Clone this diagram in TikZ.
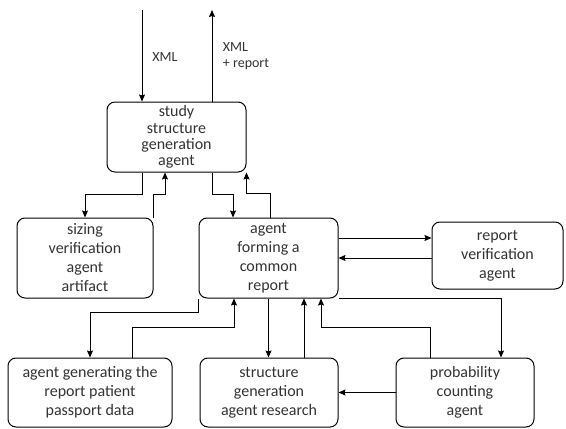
\documentclass[tikz,border=0pt]{standalone}
\usepackage{fontspec}
\setmainfont{Carlito}
\usetikzlibrary{arrows.meta}
\tikzset{
  agentbox/.style={draw, rounded corners=8pt, line width=1pt, align=center,
    inner sep=0pt, font=\fontsize{16}{19}\selectfont, text=black!80},
  flow/.style={line width=1pt, -{Stealth[length=7pt,width=6pt,inset=1pt]}}
}
\begin{document}
\begin{tikzpicture}[x=1pt,y=-1pt]
        \useasboundingbox (0,0) rectangle (566,429);
        \node[agentbox, minimum width=139pt, minimum height=70pt, font=\fontsize{16}{16.3}\selectfont] (study) at (176.5,137) {study\\structure\\generation\\agent};
        \node[agentbox, minimum width=136pt, minimum height=80pt] (sizing) at (85,258) {sizing\\verification\\agent\\artifact};
        \node[agentbox, minimum width=139pt, minimum height=80pt] (common) at (268.5,258) {agent\\forming a\\common\\report};
        \node[agentbox, minimum width=131pt, minimum height=67pt] (report) at (497.5,255.5) {report\\verification\\agent};
        \node[agentbox, minimum width=164pt, minimum height=69pt] (passport) at (90,392.5) {agent generating the\\report patient\\passport data};
        \node[agentbox, minimum width=138pt, minimum height=69pt] (research) at (269,392.5) {structure\\generation\\agent research};
        \node[agentbox, minimum width=138pt, minimum height=69pt] (probability) at (465,392.5) {probability\\counting\\agent};
        \coordinate (xmlin) at (142,10);
        \coordinate (xmlout) at (212,10);
        \draw[flow] (xmlin) -- (xmlin |- study.north);
        \draw[flow] (xmlout |- study.north) -- (xmlout);
        \node[font=\fontsize{14}{16}\selectfont, text=black!80] (xmllabel) at (165,57) {XML};
        \node[font=\fontsize{14}{16}\selectfont, text=black!80, align=left] (replabel) at (246,56) {XML\\+ report};
        \draw[flow] ([xshift=-34.5pt]study.south) -- ++(0,22) -| (sizing.north);
        \draw[flow] (sizing.north east) -- ++(0,-23) -| ([xshift=-11.5pt]study.south);
        \draw[flow] ([xshift=35.5pt]study.south) -- ++(0,22) -| ([xshift=-35.5pt]common.north);
        \draw[flow] ([xshift=1.5pt]common.north) -- ++(0,-24) -| (study.south east);
        \draw[flow] ([yshift=20pt]common.east) -- ([yshift=20pt]common.east -| report.west);
        \draw[flow] (report.west |- common.east) -- (common.east);
        \draw[flow] (common.south west) -- ++(0,14) -| (passport.north);
        \draw[flow] ([xshift=42pt]passport.north) -- ++(0,-30) -| ([xshift=-34.5pt]common.south);
        \draw[flow] (common.south) -- (common.south |- research.north);
        \draw[flow] ([xshift=35pt]research.north) -- ([xshift=35pt]research.north |- common.south);
        \draw[flow] ([xshift=-35pt]probability.north) -- ++(0,-30) -| ([xshift=52.5pt]common.south);
        \draw[flow] (common.south east) -| ([xshift=36pt]probability.north);
        \draw[flow] (probability.west) -- (research.east);
        \end{tikzpicture}
\end{document}
